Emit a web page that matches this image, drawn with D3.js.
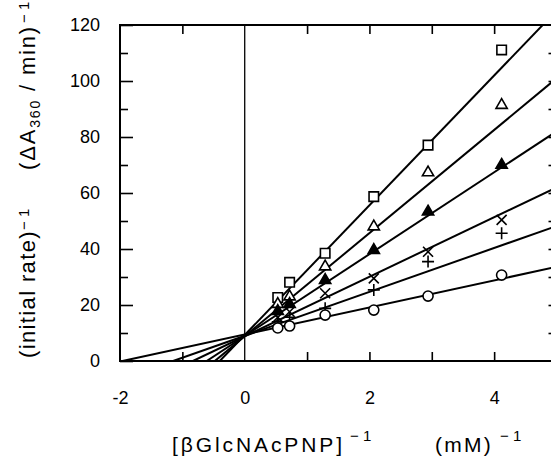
<!DOCTYPE html>
<html>
<head>
<meta charset="utf-8">
<script src="https://cdn.jsdelivr.net/npm/d3@7/dist/d3.min.js"></script>
<style>
  body { margin: 0; background: #fff; }
  text { font-family: "Liberation Sans", Arial, Helvetica, sans-serif; fill: #000; }
</style>
</head>
<body>
<div id="chart"></div>
<script>
// 1/[substrate] values (mM^-1)
var xValues = [0.53, 0.72, 1.29, 2.07, 2.94, 4.12];

// 1/rate for each inhibitor level
var squareVals   = [22.7, 28.1, 38.5, 58.7, 77.1, 111.1];
var triangleVals = [20.3, 23.0, 33.7, 48.0, 67.3, 91.4];
var filledVals   = [17.8, 20.3, 28.9, 39.6, 53.3, 70.0];
var crossVals    = [15.6, 17.6, 24.2, 29.5, 39.0, 50.4];
var plusVals     = [14.0, 15.6, 18.8, 25.4, 35.5, 45.6];
var circleVals   = [11.8, 12.5, 16.4, 18.2, 23.2, 30.7];

// fitted lines: intercept + slope * x
var lineIntercepts = [9.27, 8.84, 8.92, 8.82, 9.0, 9.47];
var lineSlopes     = [23.17, 18.42, 14.62, 10.63, 7.84, 4.83];

var markerTypes = ["square", "triangle", "triangleFilled", "cross", "plus", "circle"];
var seriesVals = [squareVals, triangleVals, filledVals, crossVals, plusVals, circleVals];

var xTickLabels = [-2, 0, 2, 4];
var xTicks = [-1, 1, 2, 3, 4];
var yTickLabels = [0, 20, 40, 60, 80, 100, 120];
var yMinorTicks = [10, 30, 50, 70, 90, 110];
var yRightTicks = [10, 20, 30, 40, 50, 60, 70, 80, 90, 100, 110];

var width = 551, height = 459;
var svg = d3.select("#chart").append("svg")
    .attr("width", width)
    .attr("height", height);

var x = d3.scaleLinear().domain([-2, 5]).range([120, 556.5]);
var y = d3.scaleLinear().domain([0, 120]).range([361, 25]);

svg.append("clipPath").attr("id", "plotclip")
  .append("rect")
    .attr("x", x(-2)).attr("y", y(120))
    .attr("width", x(5) - x(-2)).attr("height", y(0) - y(120));

// axes (ticks point inward)
var leftMajor = svg.append("g").attr("transform", "translate(" + x(-2) + ",0)")
    .call(d3.axisLeft(y).tickValues(yTickLabels).tickSize(-13).tickPadding(20).tickFormat(d3.format("d")));
var leftMinor = svg.append("g").attr("transform", "translate(" + x(-2) + ",0)")
    .call(d3.axisLeft(y).tickValues(yMinorTicks).tickSize(-8).tickFormat(""));
var rightTicks = svg.append("g").attr("transform", "translate(" + x(5) + ",0)")
    .call(d3.axisRight(y).tickValues(yRightTicks).tickSize(-8).tickFormat(""));
var topTicks = svg.append("g").attr("transform", "translate(0," + y(120) + ")")
    .call(d3.axisTop(x).tickValues(xTicks).tickSize(-9).tickFormat(""));
var bottomTicks = svg.append("g").attr("transform", "translate(0," + y(0) + ")")
    .call(d3.axisBottom(x).tickValues(xTicks).tickSize(-9).tickFormat(""));
var bottomLabels = svg.append("g").attr("transform", "translate(0," + y(0) + ")")
    .call(d3.axisBottom(x).tickValues(xTickLabels).tickSize(0).tickPadding(30).tickFormat(d3.format("d")));

svg.selectAll(".domain").remove();
svg.selectAll(".tick line").attr("stroke", "#000").attr("stroke-width", 1.6);
svg.selectAll(".tick text").style("font-size", "18px").attr("fill", "#000");
bottomLabels.selectAll(".tick text").text(function(d) { return d < 0 ? "-" + Math.abs(d) : d; });

// frame
svg.append("rect")
    .attr("x", x(-2)).attr("y", y(120))
    .attr("width", x(5) - x(-2)).attr("height", y(0) - y(120))
    .attr("fill", "none").attr("stroke", "#000").attr("stroke-width", 2);

// x = 0 line
svg.append("line")
    .attr("x1", x(0)).attr("x2", x(0))
    .attr("y1", y(0)).attr("y2", y(120))
    .attr("stroke", "#000").attr("stroke-width", 1.3);

// fitted lines, from the x-intercept to the right edge
var plot = svg.append("g").attr("clip-path", "url(#plotclip)");
lineIntercepts.forEach(function(a, i) {
  var b = lineSlopes[i];
  var x0 = -a / b;
  plot.append("line")
      .attr("x1", x(x0)).attr("y1", y(0))
      .attr("x2", x(5.2)).attr("y2", y(a + b * 5.2))
      .attr("stroke", "#000").attr("stroke-width", 2);
});

// markers
function markerPath(type) {
  if (type == "square") return d3.symbol().type(d3.symbolSquare).size(90)();
  if (type == "triangle" || type == "triangleFilled") return d3.symbol().type(d3.symbolTriangle).size(55)();
  if (type == "circle") return d3.symbol().type(d3.symbolCircle).size(80)();
  if (type == "cross") return "M-5,-5L5,5M-5,5L5,-5";
  if (type == "plus") return "M-6,0L6,0M0,-6L0,6";
}

seriesVals.forEach(function(vals, i) {
  var type = markerTypes[i];
  svg.append("g").selectAll("path")
    .data(vals)
    .enter().append("path")
      .attr("d", markerPath(type))
      .attr("transform", function(d, j) { return "translate(" + x(xValues[j]) + "," + y(d) + ")"; })
      .attr("fill", type == "triangleFilled" ? "#000" : (type == "cross" || type == "plus") ? "none" : "#fff")
      .attr("stroke", "#000")
      .attr("stroke-width", 1.6);
});

// titles: stretch each piece to the measured span
function fitText(sel, target) {
  var n = sel.text().length;
  var natural = sel.node().getComputedTextLength();
  sel.style("letter-spacing", ((target - natural) / n) + "px");
}

var yt1 = svg.append("text")
    .attr("transform", "translate(35,358) rotate(-90)")
    .style("font-size", "22px")
    .text("(initial rate)");
fitText(yt1, 128);
svg.append("text")
    .attr("transform", "translate(29,230) rotate(-90)")
    .style("font-size", "15px")
    .text("\u2212 1");

var yt2 = svg.append("text")
    .attr("transform", "translate(35,170) rotate(-90)")
    .style("font-size", "22px");
yt2.append("tspan").text("(\u0394A");
yt2.append("tspan").text("360").style("font-size", "14px").attr("dy", 5);
yt2.append("tspan").text(" / min)").attr("dy", -5);
fitText(yt2, 145);
svg.append("text")
    .attr("transform", "translate(29,23) rotate(-90)")
    .style("font-size", "15px")
    .text("\u2212 1");

var xt1 = svg.append("text")
    .attr("x", 172).attr("y", 452)
    .style("font-size", "21px")
    .text("[\u03B2GlcNAcPNP]");
fitText(xt1, 173);
svg.append("text")
    .attr("x", 350).attr("y", 441)
    .style("font-size", "15px")
    .text("\u2212 1");

var xt2 = svg.append("text")
    .attr("x", 435).attr("y", 452)
    .style("font-size", "21px")
    .text("(mM)");
fitText(xt2, 58);
svg.append("text")
    .attr("x", 500).attr("y", 441)
    .style("font-size", "15px")
    .text("\u2212 1");
</script>
</body>
</html>
